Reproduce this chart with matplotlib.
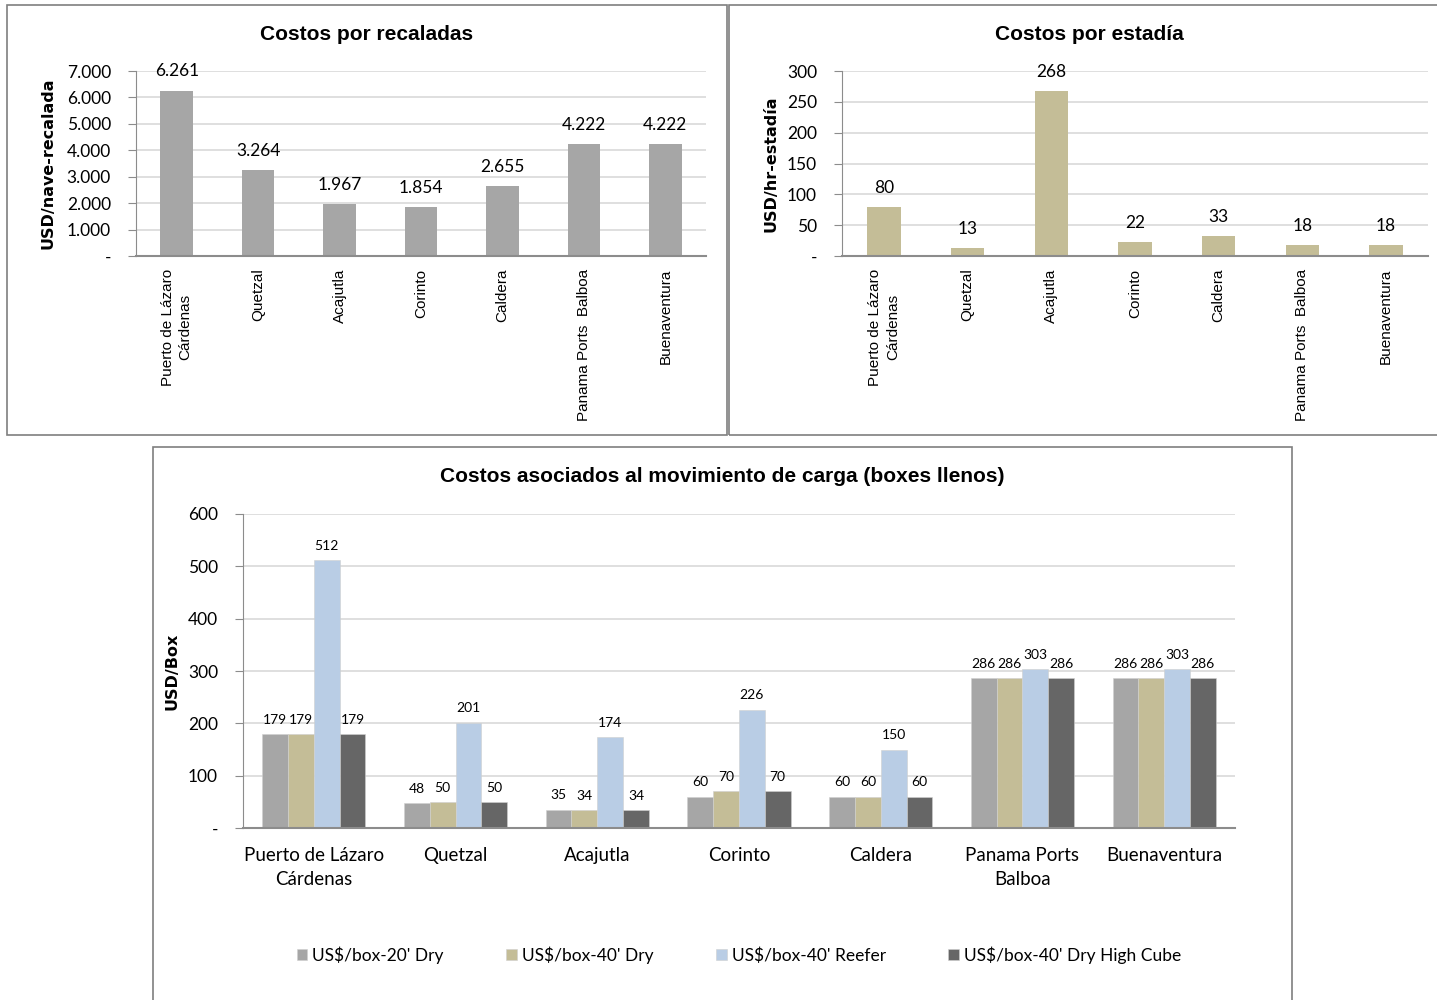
import numpy as np
import matplotlib.pyplot as plt
from matplotlib.patches import Rectangle
from matplotlib.ticker import FuncFormatter

W, H = 1437, 1000

puertos_rot = ["Puerto de Lázaro\nCárdenas", "Quetzal", "Acajutla", "Corinto",
               "Caldera", "Panama Ports  Balboa", "Buenaventura"]
puertos = ["Puerto de Lázaro\nCárdenas", "Quetzal", "Acajutla", "Corinto",
           "Caldera", "Panama Ports\nBalboa", "Buenaventura"]

recaladas = [6261, 3264, 1967, 1854, 2655, 4222, 4222]
estadia = [80, 13, 268, 22, 33, 18, 18]

series = ["US$/box-20' Dry", "US$/box-40' Dry", "US$/box-40' Reefer",
          "US$/box-40' Dry High Cube"]
dry20 = [179, 48, 35, 60, 60, 286, 286]
dry40 = [179, 50, 34, 70, 60, 286, 286]
reefer40 = [512, 201, 174, 226, 150, 303, 303]
hc40 = [179, 50, 34, 70, 60, 286, 286]

colores = ["#A6A6A6", "#C4BD97", "#B9CDE5", "#666666"]
NUM = "Lato"
GRID = "#D9D9D9"
EJE = "#8C8C8C"


def px_axes(fig, left, top, right, bottom):
    return fig.add_axes([left / W, 1 - bottom / H, (right - left) / W, (bottom - top) / H])


def marco(fig, left, top, right, bottom, titulo, ty):
    fig.patches.append(Rectangle((left / W, 1 - bottom / H), (right - left) / W,
                                 (bottom - top) / H, transform=fig.transFigure,
                                 fill=False, edgecolor="#7F7F7F", lw=1.2))
    fig.text((left + right) / 2 / W, 1 - ty / H, titulo, ha="center", va="center",
             fontsize=15, fontweight="bold", fontfamily="Liberation Sans")


def miles(v, pos):
    if v == 0:
        return "-"
    return f"{v:,.0f}".replace(",", ".")


def estilo(ax, ymax, paso):
    ax.set_ylim(0, ymax)
    ax.set_yticks(np.arange(0, ymax + 1, paso))
    ax.yaxis.set_major_formatter(FuncFormatter(miles))
    ax.grid(axis="y", color=GRID, lw=1.2)
    ax.set_axisbelow(True)
    for s in ["top", "right"]:
        ax.spines[s].set_visible(False)
    ax.spines["left"].set_color(EJE)
    ax.spines["bottom"].set_color(EJE)
    ax.spines["bottom"].set_linewidth(1.5)
    ax.tick_params(axis="y", length=6, color=EJE, labelsize=12.5, pad=12)
    ax.tick_params(axis="x", length=0)
    for t in ax.get_yticklabels():
        t.set_fontfamily(NUM)


fig = plt.figure(figsize=(W / 100, H / 100), dpi=100)
x = np.arange(len(puertos_rot))

# panel superior izquierdo
marco(fig, 7, 5, 727, 435, "Costos por recaladas", 34)
ax1 = px_axes(fig, 136, 71, 706, 256)
b = ax1.bar(x, recaladas, width=0.4, color=colores[0])
ax1.set_xlim(-0.5, len(x) - 0.5)
estilo(ax1, 7000, 1000)
ax1.set_xticks(x)
ax1.set_xticklabels(puertos_rot, rotation=90, fontsize=11,
                    fontfamily="Liberation Sans", va="top", linespacing=1.35)
ax1.tick_params(axis="x", pad=9)
for r, v in zip(b, recaladas):
    ax1.annotate(miles(v, 0), (r.get_x() + r.get_width() / 2, v), xytext=(0, 8),
                 textcoords="offset points", ha="center", va="bottom",
                 fontsize=12.5, fontfamily=NUM)
ax1.set_ylabel("USD/nave-recalada", fontsize=11.5, fontweight="bold",
               fontfamily="DejaVu Sans", labelpad=8)

# panel superior derecho
marco(fig, 729, 5, 1450, 435, "Costos por estadía", 34)
ax2 = px_axes(fig, 842, 71, 1428, 256)
b = ax2.bar(x, estadia, width=0.4, color=colores[1])
ax2.set_xlim(-0.5, len(x) - 0.5)
estilo(ax2, 300, 50)
ax2.set_xticks(x)
ax2.set_xticklabels(puertos_rot, rotation=90, fontsize=11,
                    fontfamily="Liberation Sans", va="top", linespacing=1.35)
ax2.tick_params(axis="x", pad=9)
for r, v in zip(b, estadia):
    ax2.annotate(str(v), (r.get_x() + r.get_width() / 2, v), xytext=(0, 8),
                 textcoords="offset points", ha="center", va="bottom",
                 fontsize=12.5, fontfamily=NUM)
ax2.set_ylabel("USD/hr-estadía", fontsize=11.5, fontweight="bold",
               fontfamily="DejaVu Sans", labelpad=6)

# panel inferior
marco(fig, 153, 447, 1292, 1010, "Costos asociados al movimiento de carga (boxes llenos)", 476)
ax3 = px_axes(fig, 243, 514, 1235, 828)
ancho = 0.182
for i, (vals, nom, c) in enumerate(zip([dry20, dry40, reefer40, hc40], series, colores)):
    pos = x + (i - 1.5) * ancho
    barras = ax3.bar(pos, vals, width=ancho, color=c, label=nom,
                     edgecolor="#D0D0D0", linewidth=0.4)
    for r, v in zip(barras, vals):
        ax3.annotate(str(v), (r.get_x() + r.get_width() / 2, v), xytext=(0, 6),
                     textcoords="offset points", ha="center", va="bottom",
                     fontsize=10, fontfamily=NUM)
ax3.set_xlim(-0.5, len(x) - 0.5)
estilo(ax3, 600, 100)
ax3.set_xticks(x)
ax3.set_xticklabels(puertos, fontsize=13.5, fontfamily=NUM, linespacing=1.5)
ax3.tick_params(axis="x", pad=14)
ax3.set_ylabel("USD/Box", fontsize=11.5, fontweight="bold",
               fontfamily="DejaVu Sans", labelpad=6)
ax3.legend(loc="center", bbox_to_anchor=(0.5, -0.405), ncol=4, frameon=False,
           handlelength=0.6, handleheight=0.6, handletextpad=0.3,
           columnspacing=3.6, prop={"family": NUM, "size": 12.5})

plt.savefig("out.png", dpi=100)
